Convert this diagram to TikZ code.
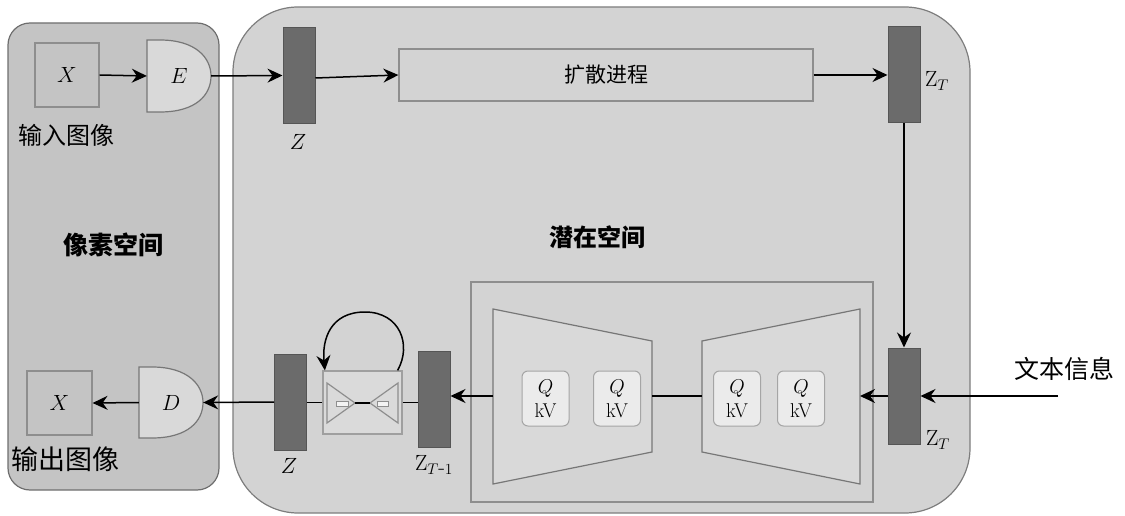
\documentclass[tikz,border=0pt]{standalone}
\usepackage{fontspec}
\usepackage{fix-cm}
\newfontfamily\cjk{Noto Sans CJK SC}
\usetikzlibrary{arrows.meta}
\definecolor{pixbg}{HTML}{C4C4C4}
\definecolor{latbg}{HTML}{D3D3D3}
\definecolor{paneledge}{HTML}{6E6E6E}
\definecolor{barc}{HTML}{6B6B6B}
\definecolor{baredge}{HTML}{555555}
\definecolor{boxedge}{HTML}{8E8E8E}
\definecolor{gatec}{HTML}{D9D9D9}
\definecolor{gateedge}{HTML}{777777}
\definecolor{qkvc}{HTML}{EBEBEB}
\definecolor{minic}{HTML}{DADADA}
\tikzset{
  arr/.style={-{Stealth[length=15pt,width=14pt,inset=5pt]}, line width=1.5pt, black},
  plain/.style={line width=1.5pt, black},
  panel/.style={draw=paneledge, line width=1.2pt, inner sep=0pt},
  zbar/.style={draw=baredge, fill=barc, line width=1pt, minimum width=32, minimum height=96, inner sep=0pt},
  flatbox/.style={draw=boxedge, line width=1.2pt, inner sep=0pt},
  gate/.style={draw=gateedge, fill=gatec, line width=1.2pt},
  mathlab/.style={font=\fontsize{22}{26}\selectfont, inner sep=0pt},
  qkv/.style={draw=boxedge!80, fill=qkvc, rounded corners=6, line width=1pt, minimum width=47, minimum height=55, inner sep=0pt, align=center, font=\fontsize{20}{24}\selectfont},
  trap/.style={draw=gateedge, fill=gatec, line width=1.2pt},
  cjklab/.style={font=\cjk\fontsize{#1}{#1}\selectfont, inner sep=0pt},
}
\begin{document}
\begin{tikzpicture}[x=1pt,y=-1pt]
\useasboundingbox (0,0) rectangle (1125,516);
% panels
\node[panel, fill=pixbg, rounded corners=22, minimum width=211, minimum height=467] (pix) at (113.5,256.5) {};
\node[panel, fill=latbg, rounded corners=65, minimum width=737, minimum height=506, draw=paneledge!90] (lat) at (601.5,260) {};
\node[flatbox, minimum width=402, minimum height=220] (unet) at (672,392) {};
% titles
\node[cjklab=25, font=\cjk\bfseries\fontsize{25}{25}\selectfont] (tpix) at (113,245) {像素空间};
\node[cjklab=24, font=\cjk\bfseries\fontsize{24}{24}\selectfont] (tlat) at (597,237) {潜在空间};
% top row
\node[flatbox, minimum width=64, minimum height=64, mathlab] (X1) at (67,75) {$X$};
\node[minimum width=64, minimum height=72, inner sep=0pt] (E) at (179,76) {};
\draw[gate] (147,40) -- (160,40) .. controls (196,40) and (211,58) .. (211,76) .. controls (211,95) and (196,112) .. (160,112) -- (147,112) -- cycle;
\node[mathlab] at (E) {$E$};
\node[cjklab=24] (in) at (67,135) {输入图像};
\node[zbar] (Z1) at (299,75.5) {};
\node[mathlab] (Z1l) at (298,142) {$Z$};
\node[flatbox, minimum width=414, minimum height=52, font=\cjk\fontsize{21}{21}\selectfont] (diff) at (606,75) {扩散进程};
\node[zbar] (ZT1) at (904,75) {};
\node[mathlab] (ZT1l) at (937,81) {$\mathrm{Z}_T$};
% right column
\node[zbar] (ZT2) at (904,396) {};
\node[mathlab] (ZT2l) at (938,440) {$\mathrm{Z}_T$};
\node[cjklab=25] (txt) at (1064,369) {文本信息};
\coordinate (tin) at (1058,396);
% U-Net trapezoids
\draw[trap] (493,309) -- (652,341) -- (652,452) -- (493,484) -- cycle;
\draw[trap] (702,341) -- (860,309) -- (860,484) -- (702,452) -- cycle;
\coordinate (Lw) at (493,396);
\coordinate (Le) at (652,396);
\coordinate (Rw) at (702,396);
\coordinate (Re) at (860,396);
\node[qkv] (q1) at (545.5,398.5) {$Q$\\kV};
\node[qkv] (q2) at (617,398.5) {$Q$\\kV};
\node[qkv] (q3) at (737,398.5) {$Q$\\kV};
\node[qkv] (q4) at (801,398.5) {$Q$\\kV};
% bottom row
\node[zbar] (ZTm) at (434,399) {};
\node[mathlab] (ZTml) at (434,465) {$\mathrm{Z}_{T\mbox{-}1}$};
\node[flatbox, fill=minic, draw=boxedge!85, minimum width=79, minimum height=63] (mb) at (362.5,402.5) {};
\draw[draw=boxedge, line width=1.2pt] (327,383) -- (355,403) -- (327,423) -- cycle;
\draw[draw=boxedge, line width=1.2pt] (398,383) -- (370,403) -- (398,423) -- cycle;
\draw[line width=1.2pt] (355,403) -- (370,403);
\draw[draw=boxedge, fill=qkvc!60!white, line width=1pt] (336,401) rectangle (348,406);
\draw[draw=boxedge, fill=qkvc!60!white, line width=1pt] (377,401) rectangle (388,406);
\node[zbar] (Z2) at (290.5,402) {};
\node[mathlab] (Z2l) at (289,466) {$Z$};
\node[minimum width=64, minimum height=71, inner sep=0pt] (D) at (171,402.5) {};
\draw[gate] (139,367) -- (152,367) .. controls (188,367) and (203,385) .. (203,402.5) .. controls (203,421) and (188,438) .. (152,438) -- (139,438) -- cycle;
\node[mathlab] at (D) {$D$};
\node[flatbox, minimum width=65, minimum height=64, mathlab] (X2) at (59.5,403) {$X$};
\node[cjklab=27] (out) at (66,459) {输出图像};
% connectors
\draw[arr] (X1.east) -- (E.west);
\draw[arr] (E.east) -- (Z1.west);
\draw[arr] ([yshift=-2.5]Z1.east) -- (diff.west);
\draw[arr] (diff.east) -- (ZT1.west);
\draw[arr] (ZT1.south) -- (ZT2.north);
\draw[arr] (tin) -- (tin -| ZT2.east);
\draw[arr] (ZT2.west) -- (Re);
\draw[plain] (Le) -- (Rw);
\draw[arr] (Lw) -- (Lw -| ZTm.east);
\draw[plain] (mb.east) -- (mb.east -| ZTm.west);
\draw[plain] (mb.west) -- (mb.west -| Z2.east);
\draw[arr] (Z2.west) -- (D.east);
\draw[arr] (D.west) -- (X2.east);
\draw[arr] ([xshift=-5]mb.north east) .. controls (412,345) and (400,312) .. (365,312) .. controls (330,312) and (322,340) .. ([xshift=2.5]mb.north west);
\end{tikzpicture}
\end{document}
